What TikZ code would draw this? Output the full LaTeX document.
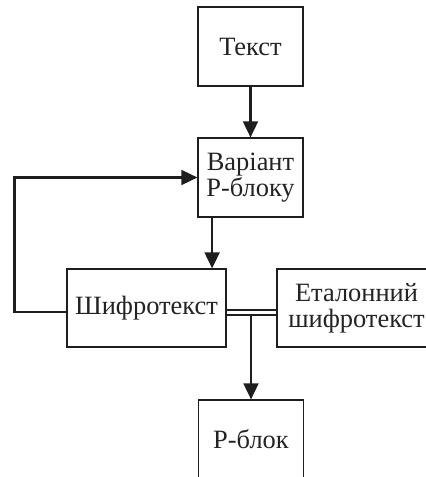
\documentclass[tikz,border=0pt]{standalone}
\usepackage{fontspec}
\setmainfont{Liberation Serif}
\usetikzlibrary{arrows.meta,positioning,calc}
\definecolor{lineGray}{RGB}{30,30,30}
\definecolor{textGray}{RGB}{35,35,35}
\begin{document}
\begin{tikzpicture}[
        bx/.style={draw=lineGray, line width=0.8pt, align=center, inner sep=2pt,
                   text=textGray, font=\fontsize{18.8}{18.8}\selectfont,
                   minimum width=2.625cm, minimum height=1.975cm},
        arr/.style={-{Triangle[length=0.4cm,width=0.37cm]}, line width=1.6pt, draw=lineGray},
        lnk/.style={line width=1.2pt, draw=lineGray}
      ]
        \useasboundingbox (0,0) rectangle (10.625,11.925);
        % boxes
        \node[bx] (tekst) at (6.2625,10.7625) {Текст};
        \node[bx] (variant) at (6.2625,7.4875) {Варіант\\Р-блоку};
        \node[bx, minimum width=3.975cm, minimum height=1.95cm] (shyfr) at (3.6625,4.225) {Шифротекст};
        \node[bx, minimum width=3.975cm, minimum height=1.95cm] (etalon) at (8.9125,4.225) {Еталонний\\шифротекст};
        \node[bx] (pblok) at (6.275,0.9375) {Р-блок};
        % forward arrows
        \draw[arr] (tekst) -- (variant);
        \draw[arr] ([xshift=-0.96cm]variant.south) -- ([xshift=-0.96cm]variant.south |- shyfr.north);
        % comparison
        \draw[lnk] ([yshift=-0.05cm]shyfr.east) -- ([yshift=-0.05cm]shyfr.east -| etalon.west);
        \draw[lnk] ([yshift=-0.175cm]shyfr.east) -- ([yshift=-0.175cm]shyfr.east -| etalon.west);
        \draw[arr] ([yshift=-0.175cm]shyfr.east -| pblok.north) -- (pblok.north);
        % feedback loop
        \draw[arr] ([yshift=-0.1cm]shyfr.west) -- ++(-1.3cm,0) |- (variant.west);
      \end{tikzpicture}
\end{document}
